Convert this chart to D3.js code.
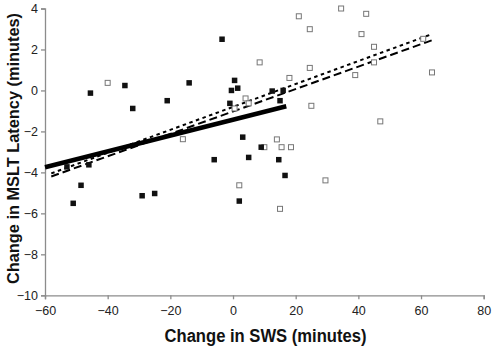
<!DOCTYPE html>
<html>
<head>
<meta charset="utf-8">
<script src="https://cdn.jsdelivr.net/npm/d3@7"></script>
<style>
  body { margin: 0; background: #fff; }
  text { font-family: "Liberation Sans", Arial, sans-serif; }
</style>
</head>
<body>
<div id="chart"></div>
<script>
// data
const filledX = [-3.5, -45.5, -34.5, -14, -21, -32, 0.5, -0.5, 1.5, -1, 3.1, -6, 5, 12.5, 16, 15, 9, 14.6, 16.6, -53, -46, -48.5, -51, -29, -25, 2]
const filledY = [2.5, -0.13, 0.24, 0.37, -0.5, -0.88, 0.49, 0, 0.11, -0.63, -2.28, -3.38, -3.27, -0.03, 0, -0.5, -2.77, -3.38, -4.15, -3.73, -3.63, -4.63, -5.51, -5.14, -5.03, -5.4]
const openX = [-40, -16, 4, 0.5, 5, 21, 34.5, 42.5, 24.5, 41, 45, 8.5, 24.5, 45, 39, 18, 63.5, 60.7, 25, 47, 14, 10, 15.5, 18.5, 29.5, 15, 2]
const openY = [0.37, -2.38, -0.39, -0.88, -0.63, 3.62, 4.0, 3.74, 2.99, 2.75, 2.13, 1.37, 1.1, 1.37, 0.75, 0.61, 0.88, 2.52, -0.75, -1.51, -2.39, -2.77, -2.77, -2.77, -4.39, -5.78, -4.63]
// trend lines: [x0, y0, x1, y1]
const solidLine = [-60, -3.75, 17, -0.77]
const dashLine = [-58, -4.2, 63.5, 2.45]
const dotLine = [-58, -4.05, 63.5, 2.75]
const xTicks = [-60, -40, -20, 0, 20, 40, 60, 80]
const yTicks = [-10, -8, -6, -4, -2, 0, 2, 4]

const width = 492
const height = 347
const margin = {top: 8.5, bottom: 51.7, left: 45, right: 8.3}

const svg = d3.select("div#chart").append("svg").attr("width", width).attr("height", height)

const x = d3.scaleLinear().domain([-60, 80]).range([margin.left, width - margin.right])
const y = d3.scaleLinear().domain([-10, 4]).range([height - margin.bottom, margin.top])

// axes
const xAxis = d3.axisBottom(x).tickValues(xTicks).tickSize(4).tickPadding(4)
const yAxis = d3.axisLeft(y).tickValues(yTicks).tickSize(4).tickPadding(3)

const xAxisGroup = svg.append("g").attr("transform", `translate(0, ${y(-10)})`).call(xAxis)
const yAxisGroup = svg.append("g").attr("transform", `translate(${x(-60)}, 0)`).call(yAxis)

for (const g of [xAxisGroup, yAxisGroup]) {
    g.selectAll("path, line").attr("stroke", "#8c8c8c").attr("stroke-width", 1.3)
    g.selectAll("text").attr("fill", "#222").style("font-size", "12.5px")
}
xAxisGroup.selectAll("text").attr("dy", "0.95em")

// lines
const lineGroup = svg.append("g")
function drawLine(d, w, dash) {
    lineGroup.append("line")
        .attr("x1", x(d[0])).attr("y1", y(d[1]))
        .attr("x2", x(d[2])).attr("y2", y(d[3]))
        .attr("stroke", "#000").attr("stroke-width", w)
        .attr("stroke-dasharray", dash)
}
drawLine(dashLine, 2, "8,4")
drawLine(dotLine, 2, "3.5,3.5")
drawLine(solidLine, 4.5, null)

// points
const s = 5
svg.append("g").selectAll("rect").data(d3.range(openX.length)).join("rect")
    .attr("x", i => x(openX[i]) - s / 2)
    .attr("y", i => y(openY[i]) - s / 2)
    .attr("width", s).attr("height", s)
    .attr("fill", "#fff").attr("stroke", "#777").attr("stroke-width", 1)

svg.append("g").selectAll("rect").data(d3.range(filledX.length)).join("rect")
    .attr("x", i => x(filledX[i]) - 2.75)
    .attr("y", i => y(filledY[i]) - 2.75)
    .attr("width", 5.5).attr("height", 5.5)
    .attr("fill", "#111")

// titles
svg.append("text")
    .attr("x", 265.5).attr("y", 341.5)
    .attr("text-anchor", "middle")
    .attr("textLength", 202).attr("lengthAdjust", "spacingAndGlyphs")
    .style("font-size", "17.5px").style("font-weight", "bold").attr("fill", "#111")
    .text("Change in SWS (minutes)")

svg.append("text")
    .attr("transform", "translate(18.5, 148.5) rotate(-90)")
    .attr("text-anchor", "middle")
    .attr("textLength", 271).attr("lengthAdjust", "spacingAndGlyphs")
    .style("font-size", "17px").style("font-weight", "bold").attr("fill", "#111")
    .text("Change in MSLT Latency (minutes)")
</script>
</body>
</html>
